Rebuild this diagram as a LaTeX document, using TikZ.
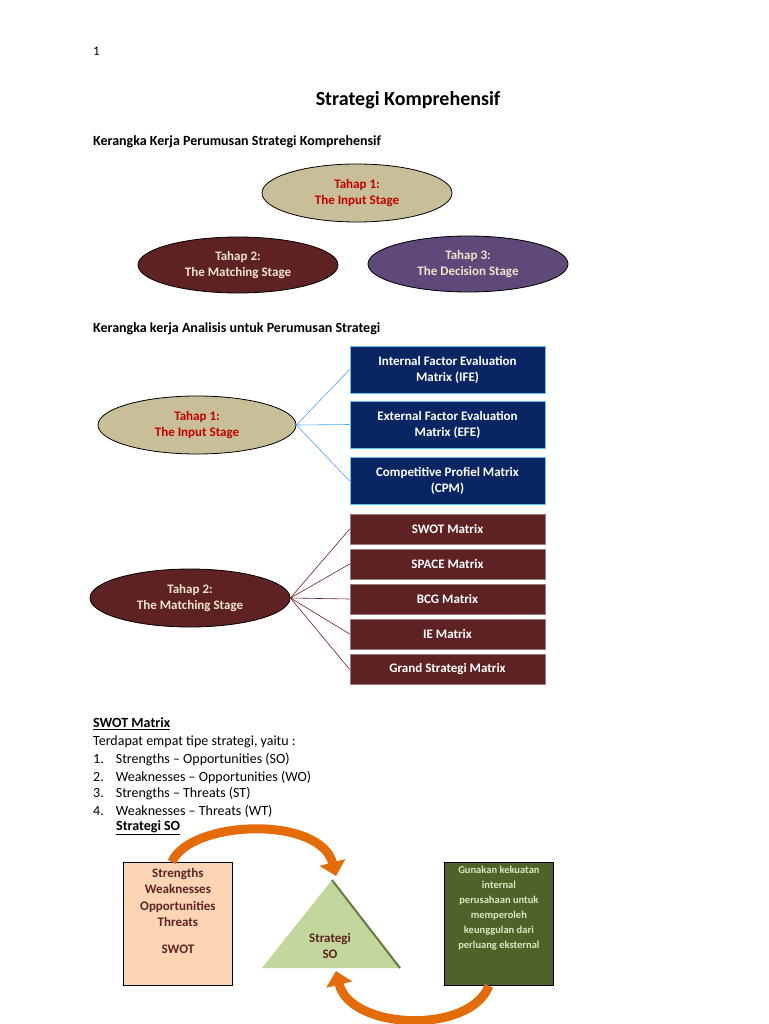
\documentclass[tikz,border=0pt]{standalone}
\usepackage{fontspec}
\setmainfont{Carlito}
\usetikzlibrary{shapes.geometric,arrows.meta}
\definecolor{tan}{HTML}{C8BE97}
\definecolor{maroon}{HTML}{5F2224}
\definecolor{purp}{HTML}{5F497A}
\definecolor{navy}{HTML}{0A2563}
\definecolor{redt}{HTML}{C00000}
\definecolor{lighttxt}{HTML}{EEE6C8}
\definecolor{peach}{HTML}{FCD5B5}
\definecolor{lgreen}{HTML}{C3D69B}
\definecolor{dgreen}{HTML}{4F6228}
\definecolor{orng}{HTML}{E36C09}
\begin{document}
\begin{tikzpicture}[x=1pt,y=-1pt,
 ell/.style={ellipse,draw=black,line width=0.8pt,minimum width=#1,minimum height=58pt,align=center,font=\fontsize{13}{16}\selectfont\bfseries,inner sep=0pt},
 bbox/.style={draw=blue!40!cyan!60,line width=0.8pt,fill=navy,text=white,minimum width=195pt,minimum height=47pt,align=center,font=\fontsize{13}{16}\selectfont\bfseries,inner sep=1pt},
 mbox/.style={draw=maroon!60,line width=0.6pt,fill=maroon,text=white,minimum width=195pt,minimum height=30pt,align=center,font=\fontsize{13}{15}\selectfont\bfseries},
 txt/.style={anchor=west,font=\fontsize{14}{16}\selectfont\bfseries,inner sep=0pt},
 ntxt/.style={anchor=west,font=\fontsize{14}{16}\selectfont,inner sep=0pt},
 bl/.style={draw=blue!50!cyan!70,line width=0.6pt},
 ml/.style={draw=maroon,line width=0.6pt},
 oarr/.style={draw=orng,line width=9pt,-{Triangle[length=14pt,width=26pt]}}]
\useasboundingbox (0,0) rectangle (768,1024);
\node[anchor=west,font=\fontsize{13}{15}\selectfont,inner sep=0pt] (pg) at (93,51) {1};
\node[font=\fontsize{20}{24}\selectfont\bfseries,inner sep=0pt] (title) at (408,100) {Strategi Komprehensif};
\node[txt] (h1) at (93,142) {Kerangka Kerja Perumusan Strategi Komprehensif};
\node[ell=190pt,fill=tan,text=redt] (e1) at (357,193) {Tahap 1:\\The Input Stage};
\node[ell=200pt,fill=maroon,text=lighttxt,minimum height=56pt] (e2) at (238,265) {Tahap 2:\\The Matching Stage};
\node[ell=200pt,fill=purp,text=lighttxt,minimum height=56pt] (e3) at (468,264) {Tahap 3:\\The Decision Stage};
\node[txt] (h2) at (93,329) {Kerangka kerja Analisis untuk Perumusan Strategi};
\node[ell=198pt,fill=tan,text=redt] (a1) at (197,425) {Tahap 1:\\The Input Stage};
\node[bbox] (b1) at (447.5,369.5) {Internal Factor Evaluation\\Matrix (IFE)};
\node[bbox] (b2) at (447.5,424.5) {External Factor Evaluation\\Matrix (EFE)};
\node[bbox] (b3) at (447.5,481) {Competitive Profiel Matrix\\(CPM)};
\foreach \b in {b1,b2,b3} \draw[bl] (a1.east) -- (\b.west);
\node[ell=200pt,fill=maroon,text=lighttxt] (a2) at (190,598) {Tahap 2:\\The Matching Stage};
\node[mbox] (m1) at (447.5,529) {SWOT Matrix};
\node[mbox] (m2) at (447.5,564) {SPACE Matrix};
\node[mbox] (m3) at (447.5,599) {BCG Matrix};
\node[mbox] (m4) at (447.5,634) {IE Matrix};
\node[mbox] (m5) at (447.5,669.5) {Grand Strategi Matrix};
\foreach \b in {m1,m2,m3,m4,m5} \draw[ml] (a2.east) -- (\b.west);
\node[txt] (s0) at (93,724) {\underline{SWOT Matrix}};
\node[ntxt] (s1) at (93,742) {Terdapat empat tipe strategi, yaitu :};
\node[ntxt] (l1) at (93,760) {1.\hspace{12pt}Strengths – Opportunities (SO)};
\node[ntxt] (l2) at (93,777) {2.\hspace{12pt}Weaknesses – Opportunities (WO)};
\node[ntxt] (l3) at (93,794) {3.\hspace{12pt}Strengths – Threats (ST)};
\node[ntxt] (l4) at (93,811) {4.\hspace{12pt}Weaknesses – Threats (WT)};
\node[txt] (sso) at (116,828) {\underline{Strategi SO}};
\node[draw=black,line width=0.8pt,fill=peach,minimum width=109pt,minimum height=123pt,text=maroon,align=center,font=\fontsize{13}{16.5}\selectfont\bfseries,anchor=north west,inner sep=4pt] (sw) at (123,862) {Strengths\\Weaknesses\\Opportunities\\Threats\\[10pt]SWOT\\[10pt]};
\node[draw=black,line width=0.8pt,fill=dgreen,minimum width=109pt,minimum height=123pt,text=lgreen!60!white,align=center,font=\fontsize{10.5}{15}\selectfont\bfseries,anchor=north west,inner sep=2pt] (gr) at (444,862) {Gunakan kekuatan\\internal\\perusahaan untuk\\memperoleh\\keunggulan dari\\perluang eksternal\\[18pt]};
\coordinate (ta) at (332,880);
\coordinate (tl) at (262,968);
\coordinate (tr) at (400,968);
\fill[lgreen] (ta) -- (tl) -- (tr) -- cycle;
\draw[dgreen!80!lgreen,line width=2pt] (ta) -- (tr);
\node[text=maroon,align=center,font=\fontsize{13}{16.5}\selectfont\bfseries] (tri) at (330,946) {Strategi\\SO};
\coordinate (ttop) at (336,876);
\coordinate (tbot) at (336,971);
\draw[oarr] ([xshift=-6pt]sw.north) .. controls (190,820) and (320,815) .. (ttop);
\draw[oarr] ([xshift=-10pt]gr.south) .. controls (470,1035) and (350,1030) .. (tbot);
\end{tikzpicture}
\end{document}
